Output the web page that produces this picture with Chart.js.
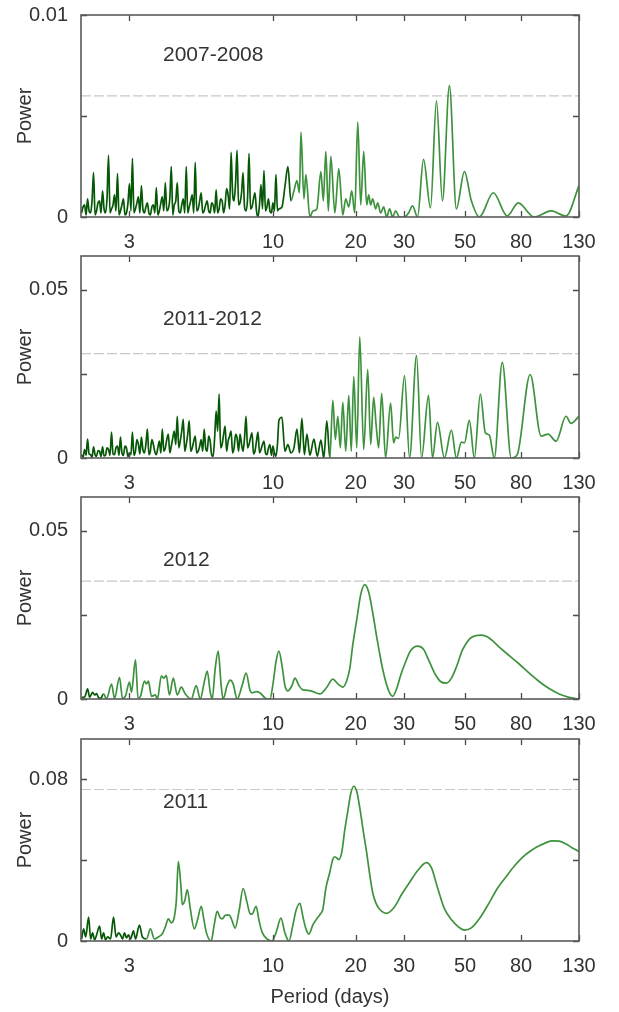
<!DOCTYPE html>
<html>
<head>
<meta charset="utf-8">
<title>Periodograms</title>
<script src="https://cdn.jsdelivr.net/npm/chart.js@4.4.1/dist/chart.umd.min.js"></script>
<style>
  html, body { margin: 0; padding: 0; background: #fff; }
  body { position: relative; width: 619px; height: 1012px; overflow: hidden; }
  canvas { position: absolute; left: 0; }
</style>
</head>
<body>
<canvas id="panel1"></canvas>
<canvas id="panel2"></canvas>
<canvas id="panel3"></canvas>
<canvas id="panel4"></canvas>
<script>
// x axis (period, days), log scale
const xTicks = [3, 10, 20, 30, 50, 80, 130];

// sampling grid shared by the two noisy periodograms (short periods)
const gridPeriods = [2.010, 2.035, 2.061, 2.087, 2.113, 2.140, 2.167, 2.194, 2.222, 2.250,
  2.278, 2.307, 2.336, 2.365, 2.396, 2.426, 2.456, 2.487, 2.519, 2.551,
  2.583, 2.616, 2.648, 2.681, 2.716, 2.750, 2.784, 2.819, 2.855, 2.891,
  2.928, 2.965, 3.002, 3.040, 3.078, 3.117, 3.156, 3.196, 3.236, 3.277,
  3.318, 3.360, 3.402, 3.445, 3.489, 3.533, 3.577, 3.622, 3.668, 3.714,
  3.761, 3.808, 3.857, 3.906, 3.954, 4.004, 4.055, 4.106, 4.158, 4.210,
  4.263, 4.317, 4.371, 4.426, 4.482, 4.539, 4.596, 4.654, 4.713, 4.772,
  4.832, 4.893, 4.955, 5.017, 5.081, 5.145, 5.210, 5.276, 5.342, 5.409,
  5.477, 5.546, 5.616, 5.687, 5.759, 5.832, 5.905, 5.979, 6.055, 6.131,
  6.209, 6.287, 6.366, 6.446, 6.528, 6.610, 6.693, 6.777, 6.863, 6.950,
  7.037, 7.126, 7.216, 7.307, 7.399, 7.492, 7.587, 7.683, 7.779, 7.877,
  7.977, 8.078, 8.179, 8.282, 8.387, 8.493, 8.599, 8.707, 8.818, 8.929,
  9.042, 9.156, 9.271, 9.388, 9.506, 9.626, 9.747, 9.870, 9.994, 10.12,
  10.25, 10.38, 10.51];

// 2007-2008
const p1Dense = [0.0002, 0.0005, 0.0006, 0.0001, 0.0009, 0.0003, 0.0002, 0.0008, 0.0022, 0.0001,
  0.0003, 0.0007, 0.0008, 0.0002, 0.0013, 0.0004, 0.0002, 0.0009, 0.00305, 0.0002,
  0.0004, 0.0006, 0.0011, 0.0003, 0.00215, 0.0001, 0.0003, 0.0006, 0.0009, 0.0001,
  0.0002, 0.0007, 0.00165, 0.0003, 0.0029, 0.0002, 0.0004, 0.0007, 0.0010, 0.0002,
  0.00155, 0.0004, 0.0002, 0.0005, 0.0007, 0.0002, 0.0001, 0.0005, 0.0006, 0.0002,
  0.00145, 0.0001, 0.0003, 0.0007, 0.0010, 0.0003, 0.0017, 0.0003, 0.0004, 0.0009,
  0.0025, 0.0001, 0.0006, 0.0008, 0.0017, 0.0003, 0.0002, 0.0006, 0.0009, 0.0002,
  0.0025, 0.0002, 0.0005, 0.0008, 0.0011, 0.0002, 0.0027, 0.0003, 0.0004, 0.0008,
  0.0012, 0.0002, 0.0003, 0.0006, 0.0008, 0.0003, 0.0002, 0.0007, 0.0006, 0.0002,
  0.00135, 0.0002, 0.0004, 0.0009, 0.0008, 0.0002, 0.0006, 0.0014, 0.0011, 0.0004,
  0.0032, 0.0012, 0.0008, 0.0017, 0.0033, 0.0006, 0.0007, 0.0012, 0.0022, 0.0005,
  0.0003, 0.0009, 0.00315, 0.0004, 0.0005, 0.0009, 0.0012, 0.0003, 0.0000, 0.0006,
  0.0016, 0.0004, 0.0023, 0.0003, 0.0005, 0.0009, 0.0003, 0.0002, 0.0007, 0.0003,
  0.0021, 0.0003, 0.0004];
const p1Period = [10.78, 11.05, 11.33, 11.62, 11.92, 12.22, 12.48, 12.64, 12.96, 13.17,
  13.62, 13.97, 14.44, 14.94, 15.25, 15.57, 15.90, 16.24, 16.79, 17.36,
  17.95, 18.40, 18.87, 19.35, 19.84, 20.35, 20.86, 21.39, 21.93, 22.30,
  22.68, 23.06, 23.65, 24.05, 24.66, 25.28, 25.92, 26.58, 27.25, 27.95,
  28.90, 30.12, 31.14, 32.21, 33.59, 35.31, 37.44, 39.36, 41.38, 43.87,
  46.51, 49.75, 52.74, 56.38, 63.39, 71.24, 78.10, 89.26, 102.9, 116.6, 130];
const p1Power = [0.0005, 0.0015, 0.0025, 0.0008, 0.0013, 0.0018, 0.0012, 0.0042, 0.0009, 0.0021,
  0.0000, 0.0003, 0.0004, 0.00225, 0.0008, 0.00325, 0.0003, 0.0030, 0.0002, 0.0024,
  0.0001, 0.0009, 0.0005, 0.0013, 0.0002, 0.0047, 0.0006, 0.00325, 0.0006, 0.0011,
  0.0006, 0.0009, 0.0004, 0.0007, 0.0002, 0.0005, 0.0000, 0.0004, 0.0000, 0.0003,
  0.0000, 0.0000, 0.0002, 0.00055, 0.0000, 0.00285, 0.00045, 0.00575, 0.0008, 0.0065,
  0.0004, 0.00225, 0.0008, 0.0000, 0.0012, 0.00005, 0.0007, 0.0000, 0.0003, 0.00005, 0.00155];

// 2011-2012
const p2Dense = [0.0010, 0.0003, 0.0025, 0.0008, 0.0056, 0.0012, 0.0010, 0.0002, 0.0033, 0.0010,
  0.0005, 0.0022, 0.0020, 0.0004, 0.0033, 0.0006, 0.0008, 0.0030, 0.0025, 0.0008,
  0.0077, 0.0012, 0.0010, 0.0030, 0.0035, 0.0008, 0.0062, 0.0015, 0.0008, 0.0035,
  0.0030, 0.0004, 0.0015, 0.0010, 0.0077, 0.0008, 0.0020, 0.0055, 0.0040, 0.0012,
  0.0062, 0.0025, 0.0015, 0.0040, 0.0086, 0.0010, 0.0020, 0.0055, 0.0040, 0.0018,
  0.0010, 0.0030, 0.0050, 0.0015, 0.0086, 0.0020, 0.0030, 0.0055, 0.0071, 0.0015,
  0.0035, 0.0060, 0.0080, 0.0040, 0.0124, 0.0030, 0.0050, 0.0080, 0.0115, 0.0020,
  0.0040, 0.0070, 0.0110, 0.0020, 0.0030, 0.0050, 0.0065, 0.0015, 0.0020, 0.0035,
  0.0055, 0.0020, 0.0086, 0.0030, 0.0020, 0.0065, 0.0050, 0.0010, 0.0005, 0.0060,
  0.0139, 0.0080, 0.0190, 0.0030, 0.0040, 0.0070, 0.0095, 0.0020, 0.0050, 0.0065,
  0.0080, 0.0015, 0.0030, 0.0070, 0.0060, 0.0020, 0.0071, 0.0040, 0.0020, 0.0060,
  0.0124, 0.0030, 0.0040, 0.0060, 0.0075, 0.0012, 0.0020, 0.0050, 0.0077, 0.0015,
  0.0025, 0.0040, 0.0050, 0.0015, 0.0010, 0.0030, 0.0040, 0.0008, 0.0035, 0.0015,
  0.0005, 0.0040, 0.0112];
const p2Period = [10.78, 11.05, 11.33, 11.62, 11.92, 12.22, 12.48, 12.74, 13.01, 13.29,
  13.62, 14.09, 14.50, 14.94, 15.31, 15.70, 16.10, 16.51, 16.86, 17.22,
  17.58, 17.95, 18.40, 18.87, 19.27, 19.68, 20.18, 20.69, 21.39, 22.12,
  22.68, 23.25, 23.75, 24.25, 24.86, 25.70, 26.80, 27.48, 27.95, 28.66,
  30.12, 31.41, 33.31, 34.73, 36.82, 38.07, 39.69, 42.07, 44.61, 46.51,
  48.52, 49.75, 51.86, 54.07, 56.86, 59.29, 61.30, 63.92, 68.32, 73.67,
  77.45, 86.33, 94.62, 100.3, 107.3, 116.6, 121.6, 130];
const p2Power = [0.0121, 0.0020, 0.0040, 0.0015, 0.0030, 0.0086, 0.0015, 0.0118, 0.0010, 0.0071,
  0.0008, 0.0056, 0.0005, 0.0053, 0.0000, 0.0110, 0.0000, 0.0171, 0.0055, 0.0124,
  0.0030, 0.0165, 0.0020, 0.0186, 0.0020, 0.0242, 0.0030, 0.0360, 0.0025, 0.0263,
  0.0040, 0.0180, 0.0095, 0.0030, 0.0192, 0.0000, 0.0163, 0.0045, 0.0062, 0.0058,
  0.0245, 0.0000, 0.0304, 0.0000, 0.0186, 0.0000, 0.0106, 0.0000, 0.0083, 0.0000,
  0.0047, 0.0045, 0.0112, 0.0000, 0.0190, 0.0075, 0.0068, 0.0000, 0.0284, 0.0000,
  0.0010, 0.0248, 0.0065, 0.0071, 0.0050, 0.0124, 0.0103, 0.0124];

// 2012
const p3Period = [2.011, 2.062, 2.114, 2.150, 2.204, 2.242, 2.279, 2.318, 2.357, 2.417,
  2.478, 2.584, 2.650, 2.762, 2.832, 2.904, 3.002, 3.053, 3.158, 3.225,
  3.292, 3.404, 3.461, 3.520, 3.609, 3.732, 3.794, 3.923, 4.006, 4.090,
  4.194, 4.336, 4.484, 4.636, 4.794, 5.040, 5.255, 5.434, 5.619, 5.762,
  5.908, 6.007, 6.160, 6.316, 6.476, 6.585, 6.809, 6.982, 7.159, 7.403,
  7.719, 7.981, 8.253, 8.392, 8.678, 8.973, 9.278, 9.511, 9.752, 10.00,
  10.25, 10.51, 10.78, 11.05, 11.33, 11.72, 12.02, 12.43, 12.85, 13.62,
  14.81, 15.70, 16.51, 17.22, 17.95, 18.56, 19.03, 19.51, 20.18, 20.86,
  21.57, 22.30, 23.06, 23.84, 24.45, 25.07, 25.92, 26.58, 27.25, 28.18,
  29.14, 30.38, 31.68, 33.59, 35.31, 37.12, 39.03, 40.70, 42.79, 44.61,
  46.51, 48.90, 51.86, 54.53, 57.33, 60.28, 63.91, 66.63, 72.42, 78.76,
  85.62, 93.06, 101.2, 110.0, 119.6, 130];
const p3Power = [0.0005, 0.0006, 0.0030, 0.0005, 0.0020, 0.0012, 0.0016, 0.0004, 0.0002, 0.0015,
  0.0001, 0.0044, 0.0002, 0.0064, 0.0002, 0.0009, 0.0050, 0.0020, 0.0116, 0.0003,
  0.0008, 0.0053, 0.0045, 0.0053, 0.0008, 0.0012, 0.0000, 0.0069, 0.0062, 0.0070,
  0.0012, 0.0062, 0.0012, 0.0035, 0.0015, 0.0000, 0.0040, 0.0000, 0.0050, 0.0083,
  0.0020, 0.0000, 0.0090, 0.0142, 0.0040, 0.0000, 0.0040, 0.0056, 0.0045, 0.0000,
  0.0040, 0.0077, 0.0025, 0.0018, 0.0022, 0.0018, 0.0006, 0.0000, 0.0000, 0.0045,
  0.0110, 0.0142, 0.0100, 0.0040, 0.0024, 0.0040, 0.0062, 0.0040, 0.0027, 0.0025,
  0.0015, 0.0035, 0.0059, 0.0045, 0.0035, 0.0055, 0.0090, 0.0160, 0.0236, 0.0310,
  0.0340, 0.0318, 0.0257, 0.0185, 0.0135, 0.0089, 0.0042, 0.0018, 0.0008, 0.0030,
  0.0070, 0.0110, 0.0143, 0.0157, 0.0148, 0.0110, 0.0072, 0.0052, 0.0047, 0.0062,
  0.0095, 0.0145, 0.0178, 0.0188, 0.0190, 0.0185, 0.0168, 0.0154, 0.0129, 0.0104,
  0.0077, 0.0052, 0.0031, 0.0015, 0.0005, 0.0000];

// 2011
const p4Period = [2.011, 2.045, 2.080, 2.132, 2.168, 2.204, 2.242, 2.279, 2.337, 2.377,
  2.417, 2.457, 2.499, 2.562, 2.627, 2.683, 2.739, 2.785, 2.832, 2.880,
  2.929, 2.978, 3.028, 3.105, 3.158, 3.264, 3.347, 3.461, 3.579, 3.701,
  3.826, 3.956, 4.056, 4.159, 4.265, 4.336, 4.447, 4.522, 4.617, 4.675,
  4.774, 4.875, 4.999, 5.169, 5.322, 5.480, 5.596, 5.714, 5.957, 6.108,
  6.263, 6.422, 6.530, 6.724, 6.924, 7.100, 7.280, 7.527, 7.783, 8.048,
  8.253, 8.392, 8.678, 8.898, 9.123, 9.511, 9.917, 10.25, 10.69, 11.05,
  11.43, 11.82, 12.12, 12.53, 12.85, 13.18, 13.51, 13.97, 14.44, 14.81,
  15.19, 15.57, 16.10, 16.51, 16.79, 17.36, 17.80, 18.25, 18.71, 19.19,
  19.68, 20.18, 20.69, 21.39, 21.93, 22.49, 23.06, 23.65, 24.45, 25.92,
  27.71, 29.38, 31.41, 33.59, 36.22, 37.75, 39.69, 42.07, 44.98, 47.31,
  49.73, 52.74, 56.38, 61.29, 65.53, 70.63, 75.51, 80.73, 87.06, 93.06,
  98.67, 103.7, 110.0, 116.6, 122.6, 130];
const p4Power = [0.0010, 0.0060, 0.0020, 0.0118, 0.0010, 0.0040, 0.0005, 0.0030, 0.0074, 0.0010,
  0.0040, 0.0005, 0.0020, 0.0010, 0.0118, 0.0020, 0.0040, 0.0030, 0.0010, 0.0040,
  0.0015, 0.0030, 0.0010, 0.0050, 0.0010, 0.0079, 0.0020, 0.0010, 0.0060, 0.0010,
  0.0020, 0.0036, 0.0070, 0.0110, 0.0090, 0.0100, 0.0200, 0.0393, 0.0280, 0.0180,
  0.0200, 0.0255, 0.0160, 0.0060, 0.0110, 0.0172, 0.0110, 0.0044, 0.0000, 0.0080,
  0.0147, 0.0115, 0.0110, 0.0128, 0.0128, 0.0100, 0.0064, 0.0150, 0.0260, 0.0190,
  0.0135, 0.0133, 0.0172, 0.0100, 0.0044, 0.0010, 0.0000, 0.0040, 0.0113, 0.0040,
  0.0000, 0.0080, 0.0150, 0.0187, 0.0120, 0.0060, 0.0034, 0.0080, 0.0110, 0.0130,
  0.0157, 0.0260, 0.0340, 0.0405, 0.0417, 0.0403, 0.0440, 0.0550, 0.0640, 0.0730,
  0.0766, 0.0740, 0.0660, 0.0530, 0.0437, 0.0330, 0.0240, 0.0190, 0.0157, 0.0137,
  0.0170, 0.0230, 0.0290, 0.0348, 0.0388, 0.0362, 0.0265, 0.0160, 0.0100, 0.0070,
  0.0054, 0.0065, 0.0110, 0.0190, 0.0260, 0.0319, 0.0370, 0.0413, 0.0448, 0.0471,
  0.0487, 0.0496, 0.0494, 0.0480, 0.0462, 0.0443];

const LIGHT = 'rgb(62, 146, 62)';
const DARK = 'rgb(6, 88, 6)';
const TEXT = '#333';
const FONT = '"Liberation Sans", Arial, Helvetica, sans-serif';

const PAD_TOP = 16;   // room above the plot for the top y label
const PLOT_H = 203;

const panels = [
    { id: 'panel1', label: '2007-2008', top: 14, labelDy: 40, xAxisH: 42,
      yMax: 0.01, yTicks: [0, 0.005, 0.01], yLabels: [0, 0.01], threshold: 0.006, darkUntil: 11.5,
      periods: gridPeriods.concat(p1Period), powers: p1Dense.concat(p1Power) },
    { id: 'panel2', label: '2011-2012', top: 255, labelDy: 63, xAxisH: 42,
      yMax: 0.06, yTicks: [0, 0.025, 0.05], yLabels: [0, 0.05], threshold: 0.031, darkUntil: 16,
      periods: gridPeriods.concat(p2Period), powers: p2Dense.concat(p2Power) },
    { id: 'panel3', label: '2012', top: 496, labelDy: 63, xAxisH: 42,
      yMax: 0.06, yTicks: [0, 0.025, 0.05], yLabels: [0, 0.05], threshold: 0.035, darkUntil: 2.4,
      periods: p3Period, powers: p3Power },
    { id: 'panel4', label: '2011', top: 738, labelDy: 63, xAxisH: 71, xTitle: 'Period (days)',
      yMax: 0.1, yTicks: [0, 0.04, 0.08], yLabels: [0, 0.08], threshold: 0.075, darkUntil: 3.4,
      periods: p4Period, powers: p4Power }
];

// box round the plot, inward tick marks on all four sides, year label
const framePlugin = {
    id: 'frame',
    afterDatasetsDraw(chart, args, opts) {
        const { ctx, chartArea: a, scales: { x, y } } = chart;
        const len = 6;
        ctx.save();
        ctx.strokeStyle = '#4a4a4a';
        ctx.lineWidth = 1.3;
        ctx.beginPath();
        x.ticks.forEach(t => {
            const px = Math.round(x.getPixelForValue(t.value)) + 0.5;
            ctx.moveTo(px, a.bottom); ctx.lineTo(px, a.bottom - len);
            ctx.moveTo(px, a.top); ctx.lineTo(px, a.top + len);
        });
        y.ticks.forEach(t => {
            const py = Math.round(y.getPixelForValue(t.value)) + 0.5;
            ctx.moveTo(a.left, py); ctx.lineTo(a.left + len, py);
            ctx.moveTo(a.right, py); ctx.lineTo(a.right - len, py);
        });
        ctx.stroke();
        ctx.strokeStyle = '#5a5a5a';
        ctx.lineWidth = 1.6;
        ctx.strokeRect(a.left, a.top, a.right - a.left, a.bottom - a.top);

        ctx.fillStyle = TEXT;
        ctx.font = '21px ' + FONT;
        ctx.textBaseline = 'middle';
        ctx.textAlign = 'left';
        ctx.fillText(opts.label, 163, a.top + opts.labelDy);
        ctx.restore();
    }
};

function makePanel(p) {
    const canvas = document.getElementById(p.id);
    canvas.width = 619;
    canvas.height = PAD_TOP + PLOT_H + p.xAxisH;
    canvas.style.top = (p.top - PAD_TOP) + 'px';

    const points = p.periods.map((period, i) => ({ x: period, y: p.powers[i] }));

    return new Chart(canvas, {
        type: 'line',
        data: {
            datasets: [{
                data: points,
                borderColor: LIGHT,
                borderWidth: 1.7,
                pointRadius: 0,
                cubicInterpolationMode: 'monotone',
                segment: {
                    borderColor: c => c.p0.parsed.x < p.darkUntil ? DARK : undefined
                },
                order: 0
            }, {
                data: [{ x: 2, y: p.threshold }, { x: 130, y: p.threshold }],
                borderColor: '#c8c8c8',
                borderWidth: 1.2,
                borderDash: [10, 3],
                pointRadius: 0,
                order: 1
            }]
        },
        options: {
            responsive: false,
            animation: false,
            devicePixelRatio: 1,
            events: [],
            layout: { padding: { top: 0, right: 40, bottom: 0, left: 0 } },
            plugins: {
                legend: { display: false },
                tooltip: { enabled: false },
                frame: { label: p.label, labelDy: p.labelDy }
            },
            scales: {
                x: {
                    type: 'logarithmic',
                    min: 2,
                    max: 130,
                    grid: { display: false },
                    border: { display: false },
                    afterBuildTicks: s => { s.ticks = xTicks.map(v => ({ value: v })); },
                    afterFit: s => { s.height = p.xAxisH; },
                    ticks: {
                        autoSkip: false,
                        maxRotation: 0,
                        padding: 5,
                        color: TEXT,
                        font: { family: FONT, size: 20 },
                        callback: v => String(v)
                    },
                    title: {
                        display: !!p.xTitle,
                        text: p.xTitle || '',
                        color: TEXT,
                        font: { family: FONT, size: 20 },
                        padding: { top: 0, bottom: 3 }
                    }
                },
                y: {
                    min: 0,
                    max: p.yMax,
                    grid: { display: false },
                    border: { display: false },
                    afterBuildTicks: s => { s.ticks = p.yTicks.map(v => ({ value: v })); },
                    afterFit: s => { s.width = 81; },
                    ticks: {
                        padding: 5,
                        color: TEXT,
                        font: { family: FONT, size: 20 },
                        callback: v => p.yLabels.includes(v) ? String(v) : ''
                    },
                    title: {
                        display: true,
                        text: 'Power',
                        color: TEXT,
                        font: { family: FONT, size: 20 },
                        padding: { top: 13, bottom: 0 }
                    }
                }
            }
        },
        plugins: [framePlugin]
    });
}

panels.forEach(makePanel);
</script>
</body>
</html>
